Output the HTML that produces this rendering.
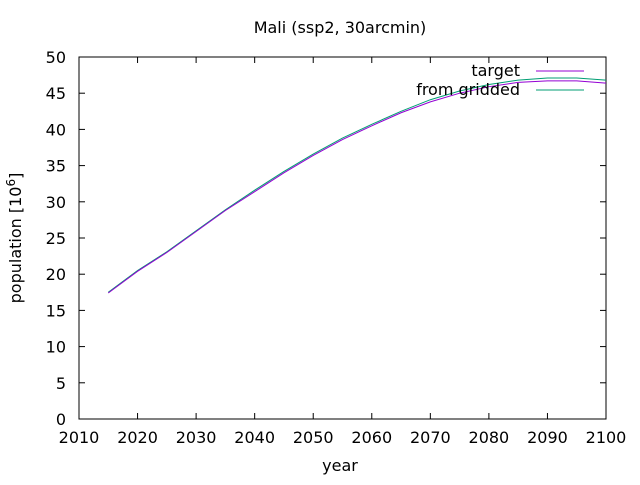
<!DOCTYPE html>
<html><head><meta charset="utf-8"><style>
body{margin:0;background:#fff}
svg text{font-family:"DejaVu Sans","Liberation Sans",sans-serif;font-size:16px;fill:#000}
</style></head><body>
<svg id="c" width="640" height="480" xmlns="http://www.w3.org/2000/svg">
<text x="340" y="33" text-anchor="middle">Mali (ssp2, 30arcmin)</text>
<text x="340" y="471" text-anchor="middle">year</text>
<text transform="translate(21,238) rotate(-90)" text-anchor="middle">population [10<tspan dy="-6" font-size="12">6</tspan><tspan dy="6">]</tspan></text>
<g id="ticks"></g>
<rect x="79" y="57" width="527" height="362" fill="none" stroke="#000" stroke-width="1"/>
<g id="series"></g>
<g>
<text x="520" y="76" text-anchor="end">target</text>
<line x1="536" y1="71" x2="584" y2="71" stroke="#9400d3"/>
<text x="520" y="95" text-anchor="end">from gridded</text>
<line x1="536" y1="90" x2="584" y2="90" stroke="#009e73"/>
</g>
</svg>
<script>
const years=[2015,2020,2025,2030,2035,2040,2045,2050,2055,2060,2065,2070,2075,2080,2085,2090,2095,2100];
const target=[17.4,20.4,23.0,25.9,28.8,31.4,34.0,36.4,38.6,40.5,42.3,43.8,45.0,45.9,46.5,46.7,46.7,46.4];
const gridded=[17.5,20.5,23.1,26.0,28.9,31.6,34.2,36.6,38.8,40.7,42.5,44.1,45.3,46.2,46.8,47.1,47.1,46.8];
const xTicks=[2010,2020,2030,2040,2050,2060,2070,2080,2090,2100];
const yTicks=[0,5,10,15,20,25,30,35,40,45,50];
const X=v=>79+(v-2010)/90*527, Y=v=>419-v/50*362;
const NS="http://www.w3.org/2000/svg";
const tg=document.getElementById('ticks');
function mk(t,a,p){const e=document.createElementNS(NS,t);for(const k in a)e.setAttribute(k,a[k]);p.appendChild(e);return e;}
xTicks.forEach(v=>{
 const l=mk('line',{x1:X(v),x2:X(v),y1:419,y2:413,stroke:'#000'},tg);
 
 
 const l2=mk('line',{x1:X(v),x2:X(v),y1:57,y2:63,stroke:'#000'},tg);
 
 
 const t=mk('text',{x:X(v),y:443,'text-anchor':'middle'},tg);t.textContent=v;
 
 
});
yTicks.forEach(v=>{
 const l=mk('line',{x1:79,x2:85,y1:Y(v),y2:Y(v),stroke:'#000'},tg);
 
 
 const l2=mk('line',{x1:606,x2:600,y1:Y(v),y2:Y(v),stroke:'#000'},tg);
 
 
 const t=mk('text',{x:66,y:Y(v)+6,'text-anchor':'end'},tg);t.textContent=v;
 
 
});
const sg=document.getElementById('series');
function line(d,c,n){
 const p=mk('polyline',{points:years.map((y,i)=>X(y)+','+Y(d[i])).join(' '),fill:'none',stroke:c,'stroke-width':1},sg);
 
 
}
line(gridded,'#009e73','series-from-gridded');
line(target,'#9400d3','series-target');
</script>
</body></html>
